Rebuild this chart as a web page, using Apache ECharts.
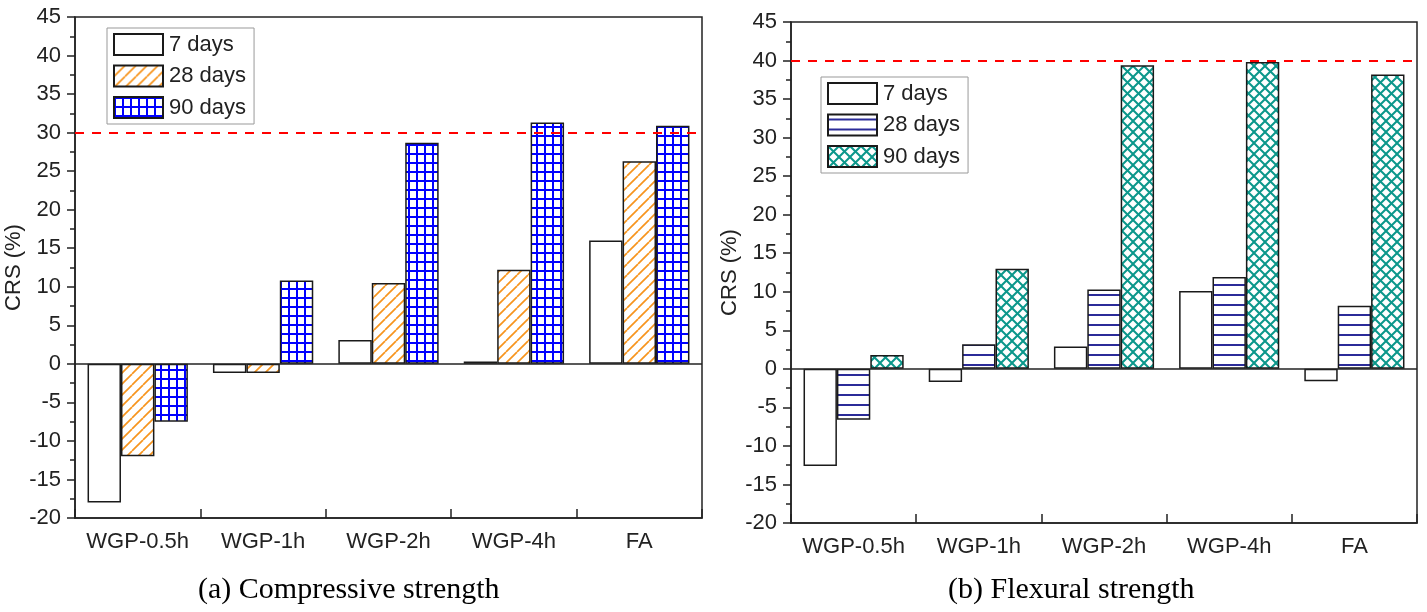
<!DOCTYPE html>
<html><head><meta charset="utf-8">
<script src="https://cdn.jsdelivr.net/npm/echarts@6/dist/echarts.min.js"></script>
<style>html,body{margin:0;padding:0;background:#fff}#c{width:1427px;height:612px}</style>
</head><body><div id="c"></div>
<script>
// ---- data ----
const categories = ['WGP-0.5h', 'WGP-1h', 'WGP-2h', 'WGP-4h', 'FA'];
const ageLabels = ['7 days', '28 days', '90 days'];
const compressive7 = [-18.0, -1.2, 3.1, 0.3, 16.0];
const compressive28 = [-12.0, -1.2, 10.5, 12.2, 26.3];
const compressive90 = [-7.5, 10.8, 28.7, 31.3, 30.9];
const flexural7 = [-12.6, -1.7, 2.9, 10.1, -1.6];
const flexural28 = [-6.6, 3.2, 10.3, 11.9, 8.2];
const flexural90 = [1.8, 13.0, 39.4, 39.8, 38.2];
const compressiveLimit = 30;
const flexuralLimit = 40;
const yMin = -20, yMax = 45, yStep = 5;
const captionA = '(a) Compressive strength';
const captionB = '(b) Flexural strength';
const yName = 'CRS (%)';

// ---- patterns ----
function makePattern(w, h, draw) {
  const c = document.createElement('canvas');
  c.width = w; c.height = h;
  const g = c.getContext('2d');
  g.fillStyle = '#fff'; g.fillRect(0, 0, w, h);
  draw(g, w, h);
  return { image: c, repeat: 'repeat' };
}
const white = '#ffffff';
const orangeHatch = makePattern(11, 11, (g, s) => {
  g.strokeStyle = '#f7941d'; g.lineWidth = 1.7;
  for (let k = -1; k <= 1; k++) { g.beginPath(); g.moveTo(k * s, s); g.lineTo(k * s + s, 0); g.stroke(); }
});
const blueGrid = makePattern(8, 9, (g, w, h) => {
  g.fillStyle = '#0000ff';
  g.fillRect(0, 0, 2, h); g.fillRect(0, 0, w, 2);
});
const navyLines = makePattern(10, 10, (g, w) => {
  g.fillStyle = '#2b2b98'; g.fillRect(0, 4, w, 2);
});
const tealCross = makePattern(11, 11, (g, s) => {
  g.strokeStyle = '#0b978b'; g.lineWidth = 2;
  for (let k = -1; k <= 1; k++) {
    g.beginPath(); g.moveTo(k * s, s); g.lineTo(k * s + s, 0); g.stroke();
    g.beginPath(); g.moveTo(k * s, 0); g.lineTo(k * s + s, s); g.stroke();
  }
});

const FONT = 'Liberation Sans, Arial, sans-serif';
const AX = '#222';
const FS = 22;

function yAxisCfg(gridIndex) {
  return {
    type: 'value', gridIndex, min: yMin, max: yMax, interval: yStep,
    name: yName, nameLocation: 'middle', nameGap: 46, nameRotate: 90,
    nameTextStyle: { fontFamily: FONT, fontSize: FS, color: AX },
    axisLine: { show: true, lineStyle: { color: AX, width: 1.5 } },
    axisTick: { show: true, inside: false, length: 8, lineStyle: { color: AX, width: 1.5 } },
    minorTick: { show: true, splitNumber: 2, length: 5, lineStyle: { color: AX, width: 1.5 } },
    axisLabel: { fontFamily: FONT, fontSize: FS, color: AX, margin: 14 },
    splitLine: { show: false }
  };
}
function xAxisCfg(gridIndex) {
  return {
    type: 'category', gridIndex, data: categories,
    axisLine: { onZero: false, lineStyle: { color: AX, width: 1.5 } },
    axisTick: { show: true, inside: true, length: 9, interval: 0, lineStyle: { color: AX, width: 1.5 } },
    axisLabel: { fontFamily: FONT, fontSize: FS, color: AX, margin: 13, interval: 0 },
    splitLine: { show: false }
  };
}
function bar(name, data, color, idx, limit) {
  const s = {
    type: 'bar', name, data, xAxisIndex: idx, yAxisIndex: idx,
    barGap: '0%', barCategoryGap: '20%',
    itemStyle: { color, borderColor: '#1a1a1a', borderWidth: 1.5 }
  };
  if (limit !== undefined) {
    s.markLine = {
      silent: true, symbol: 'none', label: { show: false }, animation: false,
      data: [
        { yAxis: 0, lineStyle: { color: '#222', type: 'solid', width: 1.5 } },
        { yAxis: limit, lineStyle: { color: '#ff0000', type: [9, 8], width: 2 } }
      ]
    };
  }
  return s;
}
function legendCfg(left, top, names) {
  return {
    orient: 'vertical', left, top, data: names,
    itemWidth: 49, itemHeight: 21, itemGap: 8.5,
    padding: [5, 8, 5, 6],
    borderColor: '#999', borderWidth: 1, backgroundColor: '#fff',
    selectedMode: false, icon: 'rect',
    formatter: n => n.slice(2),
    textStyle: { fontFamily: FONT, fontSize: FS, color: AX, padding: [0, 0, 0, 1] }
  };
}

const chart = echarts.init(document.getElementById('c'), null, { renderer: 'canvas' });
chart.setOption({
  animation: false,
  backgroundColor: '#fff',
  grid: [
    { left: 75, top: 17, width: 627, height: 501, show: true, borderColor: AX, borderWidth: 1.5, backgroundColor: 'transparent' },
    { left: 791, top: 22, width: 626, height: 501, show: true, borderColor: AX, borderWidth: 1.5, backgroundColor: 'transparent' }
  ],
  xAxis: [xAxisCfg(0), xAxisCfg(1)],
  yAxis: [yAxisCfg(0), yAxisCfg(1)],
  legend: [
    legendCfg(107, 28, ageLabels.map(a => 'a-' + a)),
    legendCfg(821, 77, ageLabels.map(a => 'b-' + a))
  ],
  series: [
    bar('a-' + ageLabels[0], compressive7, white, 0),
    bar('a-' + ageLabels[1], compressive28, orangeHatch, 0),
    bar('a-' + ageLabels[2], compressive90, blueGrid, 0, compressiveLimit),
    bar('b-' + ageLabels[0], flexural7, white, 1),
    bar('b-' + ageLabels[1], flexural28, navyLines, 1),
    bar('b-' + ageLabels[2], flexural90, tealCross, 1, flexuralLimit)
  ],
  graphic: [
    { type: 'text', left: 198, top: 575, style: { text: captionA, font: '30px "Liberation Serif", "Times New Roman", serif', fill: '#000' } },
    { type: 'text', left: 948, top: 575, style: { text: captionB, font: '30px "Liberation Serif", "Times New Roman", serif', fill: '#000' } }
  ]
});
</script>
</body></html>
